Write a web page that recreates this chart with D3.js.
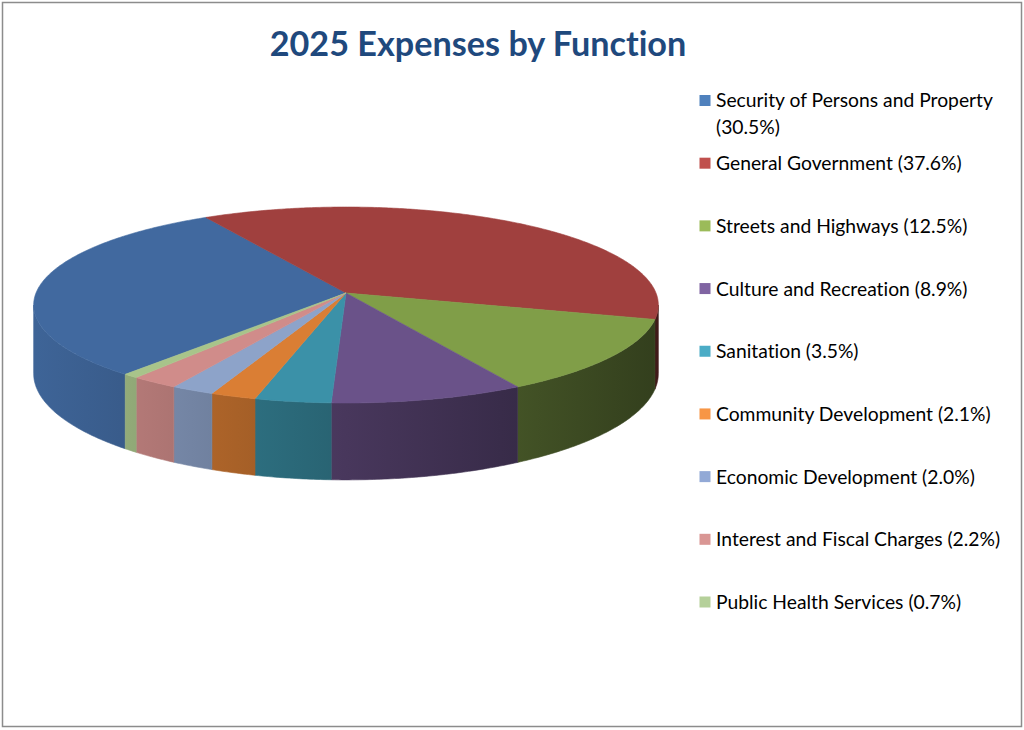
<!DOCTYPE html>
<html>
<head>
<meta charset="utf-8">
<script src="https://cdn.jsdelivr.net/npm/d3@7"></script>
<style>
  body { margin: 0; background: #fff; }
  svg { display: block; }
  text { font-variant-ligatures: none; }
</style>
</head>
<body>
<svg id="chart" width="1024" height="730"></svg>
<script>
// chart data
const categories = [
  "Security of Persons and Property",
  "General Government",
  "Streets and Highways",
  "Culture and Recreation",
  "Sanitation",
  "Community Development",
  "Economic Development",
  "Interest and Fiscal Charges",
  "Public Health Services"
];
const shares = [30.5, 37.6, 12.5, 8.9, 3.5, 2.1, 2.0, 2.2, 0.7];

// legend swatches and the (shaded) top faces of the pie
const legendColors = ["#4f81bd", "#c0504d", "#9bbb59", "#8064a2", "#4bacc6", "#f79646", "#92a9d6", "#d99694", "#b5d09a"];
const faceColors   = ["#41699f", "#a0403e", "#809e48", "#6a5289", "#3b91a8", "#da7e34", "#8da3c9", "#d08c8a", "#a8c48a"];

const svg = d3.select("#chart");

// outer frame
svg.append("rect")
  .attr("x", 2.5).attr("y", 2.5)
  .attr("width", 1019).attr("height", 724)
  .attr("fill", "#fff")
  .attr("stroke", "#8c8c8c")
  .attr("stroke-width", 1.5);

// title
svg.append("text")
  .attr("x", 478).attr("y", 56)
  .attr("text-anchor", "middle")
  .attr("font-family", "Lato, 'Open Sans', sans-serif")
  .attr("font-weight", "bold")
  .attr("font-size", 34.2)
  .attr("fill", "#1f497d")
  .text("2025 Expenses by Function");

// 3d pie projection (simple perspective on a tilted disc)
const cx = 346, cy = 293;   // projected centre of the disc
const rx = 310, ry = 96.5;  // horizontal / vertical radius
const persp = 0.1225;       // perspective strength (front bigger than back)
const depth = 67.5;         // thickness of the disc

function project(a, z) {
  const u = Math.sin(a), v = Math.cos(a);
  const w = 1 + persp * v;
  return [cx + rx * u / w, cy - ry * v / w + z * depth / w];
}

const startAngle = 220.2 * Math.PI / 180;
const pie = d3.pie().sort(null).value(d => d.value)
  .startAngle(startAngle).endAngle(startAngle + 2 * Math.PI);

const data = categories.map((c, i) => ({ name: c, value: shares[i], i: i }));
const arcs = pie(data);

const line = d3.line();

function arcPoints(a0, a1, z) {
  const n = Math.max(2, Math.ceil(Math.abs(a1 - a0) / 0.01));
  return d3.range(n + 1).map(k => project(a0 + (a1 - a0) * k / n, z));
}

// side gradients: lighter on the left, darker on the right
const defs = svg.append("defs");
const shade = d3.scaleLinear().domain([cx - rx, cx + rx]).range([0.95, 0.40]);
arcs.forEach(d => {
  const base = d3.rgb(faceColors[d.data.i]);
  const g = defs.append("linearGradient")
    .attr("id", "side" + d.data.i)
    .attr("gradientUnits", "userSpaceOnUse")
    .attr("x1", cx - rx).attr("x2", cx + rx)
    .attr("y1", 0).attr("y2", 0);
  [0, 0.25, 0.5, 0.75, 1].forEach(t => {
    const x = cx - rx + t * 2 * rx;
    const f = shade(x);
    g.append("stop")
      .attr("offset", t)
      .attr("stop-color", d3.rgb(base.r * f, base.g * f, base.b * f).formatHex());
  });
});

// visible part of the outer wall
const visA = Math.acos(-persp), visB = 2 * Math.PI - Math.acos(-persp);

const walls = [];
arcs.forEach(d => {
  // check both the angle and its +/-2pi copies
  [0, -2 * Math.PI, 2 * Math.PI].forEach(off => {
    const a0 = Math.max(d.startAngle + off, visA);
    const a1 = Math.min(d.endAngle + off, visB);
    if (a1 > a0) walls.push({ a0: a0, a1: a1, i: d.data.i });
  });
});

svg.append("g").selectAll("path")
  .data(walls)
  .join("path")
  .attr("d", w => line(arcPoints(w.a0, w.a1, 0).concat(arcPoints(w.a1, w.a0, 1))) + "Z")
  .attr("fill", w => "url(#side" + w.i + ")")
  .attr("stroke", w => "url(#side" + w.i + ")")
  .attr("stroke-width", 0.6);

// top faces
svg.append("g").selectAll("path")
  .data(arcs)
  .join("path")
  .attr("d", d => line([[cx, cy]].concat(arcPoints(d.startAngle, d.endAngle, 0))) + "Z")
  .attr("fill", d => faceColors[d.data.i])
  .attr("stroke", d => faceColors[d.data.i])
  .attr("stroke-width", 0.6)
  .attr("stroke-linejoin", "round");

// legend
const legendY = d3.scaleLinear().domain([0, categories.length - 1]).range([100.5, 602]);
const legend = svg.append("g")
  .attr("font-family", "Lato, 'Open Sans', sans-serif")
  .attr("font-size", 19.3)
  .attr("fill", "#000");

const items = legend.selectAll("g")
  .data(data)
  .join("g")
  .attr("transform", d => `translate(0,${legendY(d.i)})`);

items.append("rect")
  .attr("x", 699.5).attr("y", -5.5)
  .attr("width", 11).attr("height", 11)
  .attr("fill", d => legendColors[d.i]);

items.append("text")
  .attr("x", 716)
  .each(function(d) {
    const label = `${d.name} (${d.value.toFixed(1)}%)`;
    const el = d3.select(this);
    const words = label.split(" ");
    let lineWords = [];
    let tspan = el.append("tspan").attr("x", 716).attr("dy", "0.36em");
    words.forEach(word => {
      lineWords.push(word);
      tspan.text(lineWords.join(" "));
      if (tspan.node().getComputedTextLength() > 295 && lineWords.length > 1) {
        lineWords.pop();
        tspan.text(lineWords.join(" "));
        lineWords = [word];
        tspan = el.append("tspan").attr("x", 716).attr("dy", 27).text(word);
      }
    });
  });
</script>
</body>
</html>
